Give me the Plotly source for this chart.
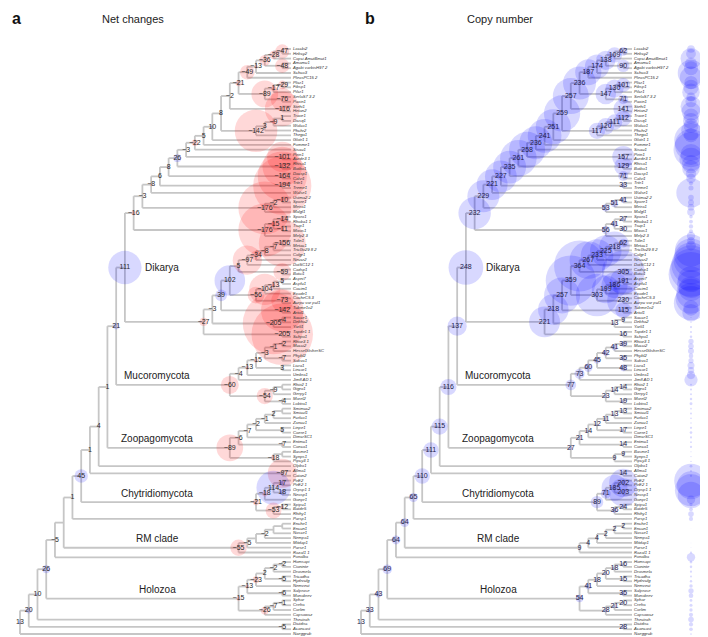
import plotly.graph_objects as go

# ---------------- data ----------------
tip_labels = [
    "Laccbi2", "Hebcy2", "Copci AmutBmut1", "Amamu1", "Agabi varbisH97 2", "Schco3", "PleosPC15 2",
    "Plicr1", "Fibsp1", "Pilcr1", "SerlaS7 3 2", "Paxin1", "Stehi1", "Hetan2", "Trave1", "Dicsq1",
    "Wolco1", "Phchr2", "Thega1", "Glotr1 1", "Fomme1", "Sisau1", "Pirin1", "Aurde3 1", "Rhiso1",
    "Botbo1", "Dacsp1", "Calvi1", "Tritr1", "Treme1", "Walse1", "Ustma2 2", "Spore1", "Meira1",
    "Malgl1", "Sporo1", "Rhoba1 1", "Tsup1", "Mixos1", "Melp2 3",
    "Tolin1", "Metac1", "TricGv29 8 2", "Colgr1", "Neucr2", "DotSC12 1", "Cadsp1", "Botci1", "Aspni7",
    "Aspfu1", "Cocim1", "Exode1", "CocheC5 3", "Aurpu var pul1", "Tubme1v2", "Artol1", "Sacce1",
    "Debha2", "Yarli1", "Tapde1 1", "Schpo1",
    "Rhior3 1", "Mucci2", "HesseGlisherSC", "Phybl2", "Sakva1", "Licra1", "Lincor1", "Umbra1",
    "Jimfl AD 1", "Rhiir2 1", "Gigro1", "Gerpy1", "Morel2", "Lobtra1",
    "Smimuc2", "Smicul1", "Furlco1", "Zancu1", "Linpe1", "Coere1", "DimcrSC1", "Entmu1", "Conco1",
    "Basme1", "Synps1", "Pipcy3 1", "Olpbo1", "Allma1", "Catan2",
    "PirE2", "PirE2 1", "Orpsp1 1", "Neosp1", "Gonpr1", "Spipu1", "Batde5", "Rhihy1", "Parsp1",
    "Enche1", "Encun1", "Nosce1", "Nempa1", "Mitdap1", "Parse1", "Rozal1 1", "Fonalba",
    "Homsapi", "Cioninte", "Drosmela", "Tricadha", "Hydrvulg", "Nemvect", "Salprose", "Monobrev",
    "Sphar", "Crefra", "Corlim", "Capsowcz", "Thectrah", "Dictdisc", "Acancast", "Naeggrub",
]

tip_copy_number = [
    55, 70, 150, 85, 100, 190, 160, 95, 110, 125, 65, 80, 150, 135, 110, 115, 105, 140, 100, 240,
    230, 250, 150, 165, 130, 125, 75, 68, 30, 36, 210, 40, 43, 48, 55, 25, 28, 31, 29, 60,
    55, 70, 230, 240, 250, 280, 300, 320, 185, 200, 175, 210, 220, 245, 110, 125, 8, 10, 16, 14, 18,
    38, 40, 43, 33, 37, 50, 46, 58, 95, 13, 15, 14, 18, 21,
    12, 14, 12, 10, 16, 19, 15, 13, 16, 8, 9, 10,
    20, 13, 16,
    240, 200, 230, 190, 60, 22, 27, 40,
    30,
    2, 3, 2, 2, 4, 5, 15,
    60,
    20, 18, 16, 14, 17, 25, 38, 33, 20, 22, 24, 30,
    40, 30, 26, 12,
]

node_ids = [
    "R13", "N33", "N28o", "N43", "N69", "N64a", "N64b", "N65", "N110", "N111", "N115", "N116", "N137", "DIK",
    "B1", "B2", "B3", "B4", "B5", "B6", "B7", "B8", "B9", "B10", "B11", "B12", "B13", "B14", "B15", "B16", "B17", "B18",
    "S90", "S147", "S130", "S101", "S71a", "S141", "S117", "S120", "S111", "S112", "S157", "S129", "S71b", "S33",
    "S53", "S51", "S41a", "S56", "S41b", "S27", "S30",
    "A1", "A2", "A3", "A4", "A5", "A6", "A7", "A8", "A9", "A10",
    "S305", "S303", "S199", "S186", "S191", "S230", "S115", "S13", "S9", "S16",
    "M77", "M73", "M60", "M45", "M42", "M41", "M39", "S35", "S48", "M23", "M14a", "M14b", "S19",
    "Z27", "Z21", "Z14a", "Z12", "Z11", "Z13a", "Z13b", "S17", "Z14b", "Z9a", "Z9b",
    "N14b", "C89", "C71", "C185", "C202", "C203", "C36", "C24",
    "R9", "R4a", "R4b", "R2a", "R2b", "R2c",
    "H54", "H41", "H18a", "H20", "H18b", "H16", "S15", "S35h", "H28", "H21", "H20b",
]
node_copy_number = [
    13, 33, 28, 43, 69, 64, 64, 65, 110, 111, 115, 116, 137, 248,
    232, 229, 221, 227, 235, 261, 258, 236, 241, 251, 259, 257, 236, 187, 174, 138, 109, 62,
    90, 147, 130, 101, 71, 141, 117, 120, 111, 112, 157, 129, 71, 33,
    53, 51, 41, 56, 41, 27, 30,
    221, 218, 257, 359, 364, 267, 233, 225, 218, 62,
    305, 303, 199, 186, 191, 230, 115, 13, 9, 16,
    77, 73, 60, 45, 42, 41, 39, 35, 48, 23, 14, 14, 19,
    27, 21, 14, 12, 11, 13, 13, 17, 14, 9, 9,
    14, 89, 71, 185, 202, 203, 36, 24,
    9, 4, 4, 2, 2, 2,
    54, 41, 18, 20, 18, 16, 15, 35, 28, 21, 20,
]
node_net_change = [
    13, 20, -5, 10, 26, -5, 0, 1, 45, 1, 4, 1, 21, 111,
    -16, -3, -8, 6, 8, 26, -3, -22, 5, 10, 8, -2, -21, -49, -13, -36, -28, -47,
    -48, -89, -17, -29, -76, -116, -142, 3, -9, 1, -101, -132, -164, -194,
    -176, -2, -10, -176, -15, -14, -11,
    -27, -3, 39, 102, 5, -97, -34, -8, -7, -156,
    -59, -56, -104, -13, 5, -73, -142, -205, -4, -205,
    -60, -4, -13, -15, -3, -1, -2, -7, 3, -54, -9, 0, -4,
    -89, -6, -7, -2, -1, 2, 0, 5, -7, -18, 0,
    -97, -21, -18, 114, 17, 18, -53, -12,
    -55, -5, 0, -2, 0, 0,
    -15, -13, -23, 2, -2, -2, -5, -6, -26, -7, -1,
]

# children listed top-to-bottom; integers are tip numbers (1-based)
tree_children = {
    "R13": ["N33", 123], "N33": ["N43", "N28o"], "N28o": [121, 122], "N43": ["N69", 120],
    "N69": ["N64a", "H54"], "N64a": ["N64b", 107], "N64b": ["N65", "R9"], "N65": ["N110", 99],
    "N110": ["N111", "C89"], "N111": ["N115", "N14b"], "N115": ["N116", 88], "N116": ["N137", "Z27"],
    "N137": ["DIK", "M77"], "DIK": ["B1", "A1"],
    "B1": ["B2", "S56"], "B2": ["B3", "S53"], "B3": ["B4", 31], "B4": ["B5", "S33"], "B5": ["B6", "S71b"],
    "B6": ["B7", "S129"], "B7": ["B8", "S157"], "B8": ["B9", 22], "B9": ["B10", 21], "B10": ["B11", 20],
    "B11": ["B12", "S117"], "B12": ["B13", "S141"], "B13": ["B14", "S147"], "B14": ["B15", 7],
    "B15": ["B16", 6], "B16": ["B17", "S90"], "B17": ["B18", 3], "B18": [1, 2],
    "S90": [4, 5], "S147": ["S130", "S71a"], "S130": ["S101", 10], "S101": [8, 9], "S71a": [11, 12],
    "S141": [13, 14], "S117": ["S120", 19], "S120": ["S111", 18], "S111": ["S112", 17], "S112": [15, 16],
    "S157": [23, 24], "S129": [25, 26], "S71b": [27, 28], "S33": [29, 30],
    "S53": ["S51", 35], "S51": ["S41a", 34], "S41a": [32, 33],
    "S56": ["S41b", 40], "S41b": ["S27", "S30"], "S27": [36, 37], "S30": [38, 39],
    "A1": ["A2", "S16"], "A2": ["A3", "S13"], "A3": ["A4", "S115"], "A4": ["A5", "S303"], "A5": ["A6", "S305"],
    "A6": ["A7", 46], "A7": ["A8", 45], "A8": ["A9", 44], "A9": ["A10", 43], "A10": [41, 42],
    "S305": [47, 48], "S303": ["S199", "S230"], "S199": ["S186", 52], "S186": ["S191", 51], "S191": [49, 50],
    "S230": [53, 54], "S115": [55, 56], "S13": ["S9", 59], "S9": [57, 58], "S16": [60, 61],
    "M77": ["M73", "M23"], "M73": ["M60", 70], "M60": ["M45", 69], "M45": ["M42", "S48"], "M42": ["M41", "S35"],
    "M41": ["M39", 64], "M39": [62, 63], "S35": [65, 66], "S48": [67, 68],
    "M23": ["M14a", "S19"], "M14a": ["M14b", 73], "M14b": [71, 72], "S19": [74, 75],
    "Z27": ["Z21", "Z9a"], "Z21": ["Z14a", "Z14b"], "Z14a": ["Z12", 82], "Z12": ["Z11", "S17"],
    "Z11": ["Z13a", 79], "Z13a": ["Z13b", 78], "Z13b": [76, 77], "S17": [80, 81], "Z14b": [83, 84],
    "Z9a": ["Z9b", 87], "Z9b": [85, 86],
    "N14b": [89, 90],
    "C89": ["C71", "C36"], "C71": ["C185", 95], "C185": ["C202", "C203"], "C202": [91, 92], "C203": [93, 94],
    "C36": ["C24", 98], "C24": [96, 97],
    "R9": ["R4a", 106], "R4a": ["R4b", 105], "R4b": ["R2a", 104], "R2a": ["R2b", 103], "R2b": ["R2c", 102],
    "R2c": [100, 101],
    "H54": ["H41", "H28"], "H41": ["H18a", "S35h"], "H18a": ["H20", 113], "H20": ["H18b", "S15"],
    "H18b": ["H16", 110], "H16": [108, 109], "S15": [111, 112], "S35h": [114, 115],
    "H28": ["H21", 119], "H21": ["H20b", 118], "H20b": [116, 117],
}

clade_names = ["Dikarya", "Mucoromycota", "Zoopagomycota", "Chytridiomycota", "RM clade", "Holozoa"]
clade_nodes = ["DIK", "M77", "Z27", "C89", "R9", "H54"]

# ---------------- layout of the cladogram ----------------
TIP_X, ROOT_X = 283.0, 12.0
Y_TOP, Y_BOT = 41.0, 626.0
PANEL_B_DX = 341.0
COLUMN_X = 683.0

n_tips = len(tip_labels)
dy = (Y_BOT - Y_TOP) / (n_tips - 1)

height = {}
def get_h(n):
    if isinstance(n, int):
        return 0
    if n not in height:
        height[n] = 1 + max(get_h(c) for c in tree_children[n])
    return height[n]
get_h("R13")
step = (TIP_X - ROOT_X) / height["R13"]

order = []
def dfs(n):
    if isinstance(n, int):
        order.append(n)
        return
    for c in tree_children[n]:
        dfs(c)
dfs("R13")
assert order == list(range(1, n_tips + 1)), "tip order mismatch"

pos = {}
def place(n):
    if isinstance(n, int):
        pos[n] = (TIP_X, Y_TOP + (n - 1) * dy)
        return pos[n]
    ys = [place(c)[1] for c in tree_children[n]]
    pos[n] = (TIP_X - height[n] * step, (ys[0] + ys[-1]) / 2)
    return pos[n]
place("R13")

line_x, line_y = [], []
for n, ch in tree_children.items():
    x0, _ = pos[n]
    ys = [pos[c][1] for c in ch]
    line_x += [x0, x0, None]
    line_y += [ys[0], ys[-1], None]
    for c in ch:
        line_x += [x0, pos[c][0], None]
        line_y += [pos[c][1], pos[c][1], None]

copy_of = dict(zip(node_ids, node_copy_number))
net_of = dict(zip(node_ids, node_net_change))

FONT = "Arial, Liberation Sans, sans-serif"
LINE_COL = "#c6c6c6"
RED = "rgba(255,0,0,0.22)"
BLUE = "rgba(0,0,255,0.22)"
SCALE_A = 0.30   # bubble diameter per unit of net change
SCALE_B = 0.14   # bubble diameter per copy

fig = go.Figure()

for dx in (0.0, PANEL_B_DX):
    fig.add_trace(go.Scatter(
        x=[v + dx if v is not None else None for v in line_x], y=line_y, mode="lines",
        line=dict(color=LINE_COL, width=1.8), hoverinfo="skip", showlegend=False))

# panel a bubbles and numbers
ax, ay, asz, acol, atxt = [], [], [], [], []
for nid in node_ids:
    v = net_of[nid]
    x, y = pos[nid]
    ax.append(x); ay.append(y)
    asz.append(SCALE_A * abs(v))
    acol.append(RED if v < 0 else BLUE)
    atxt.append("" if v == 0 else str(v).replace("-", "\u2212"))
fig.add_trace(go.Scatter(x=ax, y=ay, mode="markers",
                         marker=dict(size=asz, color=acol, line=dict(width=0), sizemode="diameter"),
                         hoverinfo="skip", showlegend=False))

# panel b bubbles (nodes)
bx = [pos[n][0] + PANEL_B_DX for n in node_ids]
by = [pos[n][1] for n in node_ids]
fig.add_trace(go.Scatter(x=bx, y=by, mode="markers",
                         marker=dict(size=[SCALE_B * copy_of[n] for n in node_ids], color=BLUE,
                                     line=dict(width=0)),
                         hoverinfo="skip", showlegend=False))
# panel b tip column
tip_y = [pos[i][1] for i in range(1, n_tips + 1)]
fig.add_trace(go.Scatter(x=[COLUMN_X] * n_tips, y=tip_y, mode="markers",
                         marker=dict(size=[SCALE_B * v for v in tip_copy_number], color=BLUE,
                                     line=dict(width=0)),
                         hoverinfo="skip", showlegend=False))

fig.add_trace(go.Scatter(x=ax, y=ay, mode="text", text=atxt, textposition="middle center",
                         textfont=dict(size=7, color="#2a2a2a", family=FONT), cliponaxis=False,
                         hoverinfo="skip", showlegend=False))
fig.add_trace(go.Scatter(x=bx, y=by, mode="text", text=[str(copy_of[n]) for n in node_ids],
                         textposition="middle center", cliponaxis=False,
                         textfont=dict(size=7, color="#22224a", family=FONT),
                         hoverinfo="skip", showlegend=False))

# tip labels
for dx in (0.0, PANEL_B_DX):
    fig.add_trace(go.Scatter(x=[TIP_X + dx + 2] * n_tips, y=tip_y, mode="text", text=tip_labels,
                             textposition="middle right", cliponaxis=False,
                             textfont=dict(size=4.2, color="#333333", family=FONT, style="italic"),
                             hoverinfo="skip", showlegend=False))

# clade labels
annotations = []
for name, nid in zip(clade_names, clade_nodes):
    x, y = pos[nid]
    for dx, rad in ((0.0, SCALE_A * abs(net_of[nid]) / 2), (PANEL_B_DX, SCALE_B * copy_of[nid] / 2)):
        if name == "Dikarya":
            annotations.append(dict(x=x + dx + rad + 1, y=y, text=name, showarrow=False,
                                    xanchor="left", yanchor="middle",
                                    font=dict(size=10, color="#222222", family=FONT)))
        else:
            annotations.append(dict(x=ROOT_X + 137 + dx, y=y - 1.5, text=name, showarrow=False,
                                    xanchor="center", yanchor="bottom",
                                    font=dict(size=10, color="#222222", family=FONT)))

for lab, title, lab_x, title_x in (("a", "Net changes", 2, 125), ("b", "Copy number", 355, 492)):
    annotations.append(dict(x=lab_x, y=10, text="<b>%s</b>" % lab, showarrow=False,
                            xanchor="left", yanchor="middle",
                            font=dict(size=16, color="#111111", family=FONT)))
    annotations.append(dict(x=title_x, y=11, text=title, showarrow=False,
                            xanchor="center", yanchor="middle",
                            font=dict(size=11, color="#222222", family=FONT)))

fig.update_layout(
    width=708, height=637, margin=dict(l=0, r=0, t=0, b=0),
    paper_bgcolor="white", plot_bgcolor="white",
    xaxis=dict(range=[0, 708], visible=False, fixedrange=True),
    yaxis=dict(range=[637, 0], visible=False, fixedrange=True),
    annotations=annotations, showlegend=False,
)

fig.write_html("out.html")
